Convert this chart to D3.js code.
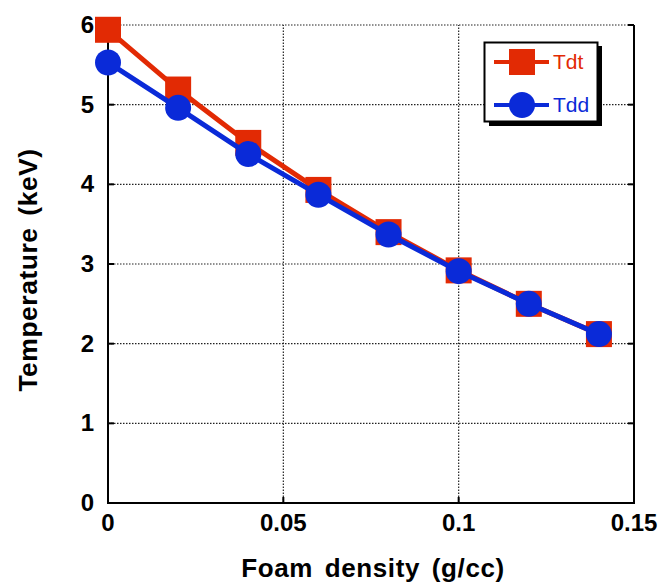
<!DOCTYPE html>
<html>
<head>
<meta charset="utf-8">
<script src="https://cdn.jsdelivr.net/npm/d3@7"></script>
<style>
  body { margin: 0; background: #fff; }
  svg { display: block; }
</style>
</head>
<body>
<div class="chart"></div>
<script>
// data
const density = [0, 0.02, 0.04, 0.06, 0.08, 0.1, 0.12, 0.14];
const tdt = [5.94, 5.19, 4.52, 3.93, 3.40, 2.92, 2.50, 2.12];
const tdd = [5.53, 4.96, 4.38, 3.87, 3.37, 2.91, 2.50, 2.12];
const xTicks = [0, 0.05, 0.1, 0.15];
const yTicks = [0, 1, 2, 3, 4, 5, 6];
const seriesNames = ["Tdt", "Tdd"];

const width = 658, height = 586;
const red = "#e22a04", blue = "#0a2ad8";
const font = "'Liberation Sans', Arial, Helvetica, sans-serif";

const svg = d3.select(".chart").append("svg")
  .attr("width", width).attr("height", height);

const x = d3.scaleLinear().domain([0, 0.15]).range([108, 634]);
const y = d3.scaleLinear().domain([0, 6]).range([503, 25]);

// grid
const grid = svg.append("g");
grid.selectAll(".gx")
  .data(xTicks.slice(1, -1))
  .enter().append("line")
  .attr("x1", d => x(d)).attr("x2", d => x(d))
  .attr("y1", y(0)).attr("y2", y(6))
  .attr("stroke", "#222").attr("stroke-width", 1.2)
  .attr("stroke-dasharray", "1.5,1.5");
grid.selectAll(".gy")
  .data(yTicks.slice(1))
  .enter().append("line")
  .attr("x1", x(0)).attr("x2", x(0.15))
  .attr("y1", d => y(d)).attr("y2", d => y(d))
  .attr("stroke", "#222").attr("stroke-width", 1.2)
  .attr("stroke-dasharray", "1.5,1.5");

// frame
svg.append("path")
  .attr("d", `M${x(0)},${y(6)}V${y(0)}H${x(0.15)}V${y(6)}`)
  .attr("fill", "none").attr("stroke", "#000").attr("stroke-width", 2);

// inward ticks
const tickLen = 6;
svg.append("g").selectAll("line")
  .data(xTicks)
  .enter().append("line")
  .attr("x1", d => x(d)).attr("x2", d => x(d))
  .attr("y1", y(0)).attr("y2", y(0) - tickLen)
  .attr("stroke", "#000").attr("stroke-width", 2);
svg.append("g").selectAll("line")
  .data(yTicks)
  .enter().append("line")
  .attr("x1", x(0)).attr("x2", x(0) + tickLen)
  .attr("y1", d => y(d)).attr("y2", d => y(d))
  .attr("stroke", "#000").attr("stroke-width", 2);
svg.append("g").selectAll("line")
  .data(yTicks)
  .enter().append("line")
  .attr("x1", x(0.15)).attr("x2", x(0.15) - tickLen)
  .attr("y1", d => y(d)).attr("y2", d => y(d))
  .attr("stroke", "#000").attr("stroke-width", 2);

// tick labels
svg.append("g").selectAll("text")
  .data(xTicks)
  .enter().append("text")
  .attr("x", d => x(d)).attr("y", 531)
  .attr("text-anchor", "middle")
  .attr("font-family", font).attr("font-weight", "bold").attr("font-size", 24)
  .text(d => d);
svg.append("g").selectAll("text")
  .data(yTicks)
  .enter().append("text")
  .attr("x", 94).attr("y", d => y(d) + 8)
  .attr("text-anchor", "end")
  .attr("font-family", font).attr("font-weight", "bold").attr("font-size", 24)
  .text(d => d);

// axis titles
svg.append("text")
  .attr("x", 373).attr("y", 577)
  .attr("text-anchor", "middle")
  .attr("font-family", font).attr("font-weight", "bold").attr("font-size", 26)
  .attr("letter-spacing", 0.6).attr("word-spacing", 4)
  .text("Foam density (g/cc)");
svg.append("text")
  .attr("transform", "translate(37,270) rotate(-90)")
  .attr("text-anchor", "middle")
  .attr("font-family", font).attr("font-weight", "bold").attr("font-size", 26.5)
  .attr("letter-spacing", 0.5).attr("word-spacing", 4)
  .text("Temperature (keV)");

// series
const line = d3.line();
const ptsDt = density.map((d, i) => [x(d), y(tdt[i])]);
const ptsDd = density.map((d, i) => [x(d), y(tdd[i])]);
const sq = 26, rad = 13;

svg.append("path")
  .attr("d", line(ptsDt))
  .attr("fill", "none").attr("stroke", red).attr("stroke-width", 5);
svg.append("g").selectAll("rect")
  .data(ptsDt)
  .enter().append("rect")
  .attr("x", d => d[0] - sq / 2).attr("y", d => d[1] - sq / 2)
  .attr("width", sq).attr("height", sq)
  .attr("fill", red);

svg.append("path")
  .attr("d", line(ptsDd))
  .attr("fill", "none").attr("stroke", blue).attr("stroke-width", 5);
svg.append("g").selectAll("circle")
  .data(ptsDd)
  .enter().append("circle")
  .attr("cx", d => d[0]).attr("cy", d => d[1]).attr("r", rad)
  .attr("fill", blue);

// legend
const lg = svg.append("g");
lg.append("rect")
  .attr("x", 489).attr("y", 46).attr("width", 113).attr("height", 80)
  .attr("fill", "#000");
lg.append("rect")
  .attr("x", 484.5).attr("y", 42.5).attr("width", 113).attr("height", 79)
  .attr("fill", "#fff").attr("stroke", "#000").attr("stroke-width", 2);

const rowY = [62, 105];
const colors = [red, blue];
seriesNames.forEach((name, i) => {
  lg.append("line")
    .attr("x1", 494).attr("x2", 549)
    .attr("y1", rowY[i]).attr("y2", rowY[i])
    .attr("stroke", colors[i]).attr("stroke-width", 4);
  if (i === 0) {
    lg.append("rect")
      .attr("x", 522 - sq / 2).attr("y", rowY[i] - sq / 2)
      .attr("width", sq).attr("height", sq).attr("fill", red);
  } else {
    lg.append("circle")
      .attr("cx", 522).attr("cy", rowY[i]).attr("r", rad).attr("fill", blue);
  }
  lg.append("text")
    .attr("x", 553).attr("y", rowY[i] + 7)
    .attr("font-family", font).attr("font-size", 21)
    .attr("fill", colors[i])
    .text(name);
});
</script>
</body>
</html>
